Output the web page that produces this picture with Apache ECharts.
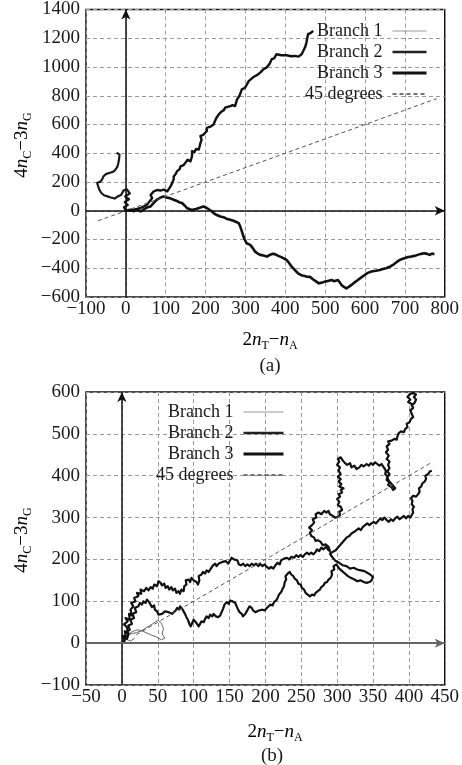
<!DOCTYPE html>
<html>
<head>
<meta charset="utf-8">
<script src="https://cdn.jsdelivr.net/npm/echarts@6/dist/echarts.min.js"></script>
<style>
html,body{margin:0;padding:0;background:#fff;}
#c{width:462px;height:765px;}
</style>
</head>
<body>
<div id="c"></div>
<script>
// ---------- DATA ----------
const seriesNames = ['Branch 1', 'Branch 2', 'Branch 3', '45 degrees'];

// Panel (a) axes
const aXTicks = [-100, 0, 100, 200, 300, 400, 500, 600, 700, 800];
const aYTicks = [-600, -400, -200, 0, 200, 400, 600, 800, 1000, 1200, 1400];
// Panel (b) axes
const bXTicks = [-50, 0, 50, 100, 150, 200, 250, 300, 350, 400, 450];
const bYTicks = [-100, 0, 100, 200, 300, 400, 500, 600];

// 45-degree reference lines: x extent (y = x)
const aDiagX = [-70, 780];
const bDiagX = [20, 432];

// Panel (a) walks
const aBranch1 = [[0,0],[-5,25],[5,40],[-3,60],[8,80],[-2,100],[10,120],[2,150],[-6,140],[-12,110],[-20,100],[-28,85],[-38,92],[-46,100],[-55,108],[-62,125],[-67,150],[-70,175],[-72,195],[-65,200],[-60,215],[-56,240],[-50,255],[-45,262],[-38,266],[-30,274],[-25,290],[-21,309],[-19,330],[-17,360],[-16,391],[-20,400],[-23,405]];
const aBranch2 = [[0,0],[8,6],[20,7],[28,12],[37,19],[45,30],[53,42],[58,60],[66,89],[62,110],[66,123],[70,135],[74,135],[80,145],[86,140],[91,147],[95,147],[100,140],[104,135],[108,147],[112,170],[116,190],[120,220],[120,239],[126,260],[128,274],[135,290],[137,309],[145,318],[149,333],[155,355],[162,344],[166,380],[166,414],[172,408],[176,430],[183,426],[187,470],[190,495],[187,519],[195,530],[203,555],[203,577],[212,585],[220,600],[220,612],[226,640],[233,670],[240,690],[246,700],[249,717],[262,728],[268,735],[274,728],[279,775],[285,800],[291,844],[299,856],[304,880],[308,902],[312,902],[320,930],[330,945],[337,961],[345,984],[353,996],[360,1020],[366,1054],[372,1060],[378,1089],[390,1082],[403,1082],[415,1075],[424,1077],[433,1072],[441,1089],[445,1112],[450,1140],[453,1170],[455,1200],[457,1228],[463,1235],[470,1251]];
const aBranch3 = [[0,0],[5,-5],[12,5],[20,-3],[28,8],[37,-5],[45,10],[55,25],[62,30],[70,55],[78,77],[86,90],[95,100],[102,92],[110,88],[115,80],[120,77],[128,68],[135,58],[141,54],[148,35],[153,19],[158,7],[165,5],[170,7],[176,12],[180,15],[187,22],[195,30],[199,28],[203,19],[208,12],[214,0],[220,-16],[228,-30],[237,-40],[245,-45],[252,-55],[262,-63],[270,-70],[277,-78],[283,-86],[287,-110],[291,-144],[294,-170],[298,-200],[303,-226],[308,-232],[312,-237],[318,-258],[324,-284],[330,-296],[337,-307],[345,-312],[354,-319],[362,-306],[368,-300],[374,-302],[381,-312],[387,-319],[395,-330],[403,-342],[410,-365],[416,-389],[424,-412],[432,-435],[440,-448],[446,-452],[453,-458],[462,-460],[470,-478],[478,-493],[484,-505],[492,-500],[499,-493],[507,-488],[516,-482],[522,-490],[532,-482],[537,-500],[541,-516],[547,-530],[553,-540],[560,-528],[566,-516],[574,-498],[582,-482],[590,-465],[599,-447],[607,-432],[616,-423],[627,-418],[637,-412],[645,-405],[653,-400],[662,-390],[670,-377],[678,-360],[687,-342],[693,-336],[699,-330],[708,-322],[716,-319],[724,-314],[732,-307],[740,-300],[749,-295],[756,-300],[762,-307],[768,-298],[774,-302]];

// Panel (b) walks
const bBranch1 = [[0,0],[5,15],[12,22],[20,25],[28,30],[35,38],[42,45],[50,55],[55,48],[58,35],[56,22],[60,12],[55,8],[48,15],[40,20],[30,28],[22,32],[15,28],[8,20],[5,10],[12,5],[18,12]];
const bBranch2 = [[0,0],[3,8],[1,18],[6,14],[4,28],[9,24],[7,38],[3,45],[8,52],[5,60],[11,56],[10,70],[14,66],[12,80],[16,88],[13,96],[19,100],[17,108],[23,112],[21,120],[27,118],[26,128],[31,124],[34,132],[37,126],[40,134],[43,130],[45,140],[49,136],[51,148],[54,144],[56,138],[59,142],[61,132],[64,136],[66,128],[69,134],[71,126],[74,130],[76,120],[79,124],[81,118],[83,128],[86,124],[87,136],[90,140],[89,150],[93,152],[95,146],[97,156],[100,150],[102,154],[104,146],[106,140],[108,150],[107,160],[111,164],[113,170],[116,166],[118,174],[121,170],[124,178],[126,174],[127,186],[130,190],[132,184],[135,190],[137,186],[140,194],[142,190],[145,196],[148,190],[151,198],[153,204],[156,200],[158,196],[161,198],[163,188],[166,186],[169,190],[172,184],[175,188],[178,184],[181,190],[184,186],[187,190],[190,184],[193,189],[196,184],[199,188],[202,182],[205,178],[208,182],[211,178],[214,186],[217,192],[220,188],[222,198],[226,202],[230,204],[233,200],[236,206],[240,204],[243,210],[246,206],[249,210],[252,206],[255,212],[258,216],[261,212],[264,216],[267,212],[270,218],[272,224],[275,220],[278,228],[281,224],[284,230],[287,224],[290,220],[288,230],[284,236],[280,234],[277,242],[273,246],[270,244],[268,252],[264,256],[262,264],[265,270],[261,276],[265,282],[268,288],[266,296],[271,300],[270,308],[274,312],[278,308],[282,316],[285,312],[288,316],[290,308],[294,304],[297,300],[299,296],[301,302],[304,306],[303,314],[307,318],[305,326],[301,330],[303,338],[300,344],[304,350],[302,356],[307,360],[305,366],[309,370],[303,374],[306,380],[302,386],[305,392],[301,398],[305,404],[302,412],[304,420],[300,426],[303,434],[301,440],[305,444],[308,436],[311,430],[314,426],[318,430],[320,420],[324,424],[327,416],[331,420],[334,426],[337,422],[341,428],[344,424],[347,430],[350,426],[353,432],[356,428],[359,424],[362,428],[365,420],[368,412],[367,404],[370,398],[369,390],[373,384],[371,378],[376,372],[378,366],[381,370],[378,376],[375,382],[372,388],[370,396],[373,404],[370,410],[373,418],[371,426],[373,434],[369,440],[372,448],[368,456],[371,462],[369,470],[373,476],[371,482],[376,484],[380,488],[383,486],[384,494],[386,502],[389,506],[393,504],[395,512],[398,516],[397,524],[401,528],[403,536],[406,540],[404,548],[402,556],[406,562],[404,568],[408,574],[410,582],[407,588],[410,594],[405,598],[401,594],[398,588],[402,582],[399,576],[405,570]];
const bBranch3 = [[0,0],[4,6],[2,14],[7,10],[9,20],[6,28],[11,32],[9,42],[14,46],[12,56],[17,60],[15,70],[20,74],[18,84],[23,88],[25,96],[28,92],[30,100],[33,96],[35,104],[38,98],[40,94],[42,86],[45,90],[46,80],[49,76],[51,68],[53,64],[56,70],[58,66],[60,76],[62,80],[65,74],[67,78],[70,70],[72,74],[75,78],[77,84],[80,80],[81,88],[84,82],[86,76],[88,70],[90,62],[92,56],[94,46],[96,40],[98,48],[100,56],[103,50],[105,46],[107,40],[109,44],[111,52],[114,50],[116,58],[118,64],[121,60],[123,68],[126,64],[128,70],[131,64],[134,62],[137,66],[139,74],[141,82],[143,92],[146,98],[149,94],[151,102],[154,100],[156,104],[158,96],[160,88],[162,80],[164,74],[167,70],[169,64],[172,70],[174,76],[176,82],[178,88],[181,84],[183,78],[186,74],[188,72],[191,78],[193,74],[196,80],[199,78],[202,84],[204,88],[207,92],[210,90],[212,98],[215,102],[217,108],[219,116],[222,122],[224,130],[226,136],[227,146],[229,152],[228,160],[231,166],[234,170],[236,164],[239,160],[241,154],[244,150],[246,142],[249,140],[251,132],[254,128],[256,120],[259,116],[262,112],[265,116],[268,114],[270,120],[273,124],[276,128],[278,134],[281,138],[283,144],[286,146],[288,152],[291,156],[293,164],[292,172],[296,176],[295,184],[299,188],[303,178],[307,172],[311,166],[315,160],[319,156],[324,152],[328,148],[333,150],[337,146],[341,144],[345,146],[348,150],[350,158],[346,164],[342,168],[338,172],[333,174],[328,176],[323,180],[318,178],[313,184],[308,186],[303,192],[298,196],[295,202],[292,208],[290,214],[294,218],[298,222],[301,228],[304,234],[307,240],[310,246],[313,252],[317,256],[320,262],[324,266],[327,270],[330,274],[333,270],[336,278],[339,282],[342,286],[345,282],[348,286],[351,290],[354,286],[357,292],[360,298],[363,294],[366,300],[369,294],[372,290],[375,296],[378,292],[381,298],[384,302],[387,296],[390,300],[393,304],[396,298],[399,304],[402,300],[404,306],[406,312],[405,320],[407,326],[404,332],[405,340],[403,346],[406,352],[410,350],[413,356],[415,362],[414,370],[417,374],[419,382],[422,386],[424,392],[423,400],[427,404],[429,410],[432,412]];

// ---------- CHART ----------
const SERIF = '"Liberation Serif","DejaVu Serif",serif';
const TXT = '#1a1a1a';
const fmtMinus = v => String(v).replace('-', '\u2212');

function xAxisCfg(gi, ticks) {
  return {
    type: 'value', gridIndex: gi,
    min: ticks[0], max: ticks[ticks.length - 1], interval: ticks[1] - ticks[0],
    axisLine: { show: false }, axisTick: { show: false },
    axisLabel: { fontFamily: SERIF, fontSize: 19, color: TXT, margin: 3, formatter: fmtMinus },
    splitLine: { show: true, lineStyle: { color: '#9a9a9a', type: [4, 3], width: 1 } }
  };
}
function yAxisCfg(gi, ticks) {
  return {
    type: 'value', gridIndex: gi,
    min: ticks[0], max: ticks[ticks.length - 1], interval: ticks[1] - ticks[0],
    axisLine: { show: false }, axisTick: { show: false },
    axisLabel: { fontFamily: SERIF, fontSize: 19, color: TXT, margin: 6, formatter: fmtMinus },
    splitLine: { show: true, lineStyle: { color: '#9a9a9a', type: [4, 3], width: 1 } }
  };
}
function walk(name, gi, data, color, width) {
  return {
    name, type: 'line', xAxisIndex: gi, yAxisIndex: gi, data,
    showSymbol: false, symbol: 'none', animation: false,
    lineStyle: { color, width, join: 'round' }, itemStyle: { color }, z: 3
  };
}
function diag(gi, xs, xT, yT, hColor, hWidth) {
  return {
    name: '45 degrees', type: 'line', xAxisIndex: gi, yAxisIndex: gi,
    data: xs.map(x => [x, x]), showSymbol: false, symbol: 'none', animation: false,
    lineStyle: { color: '#555', width: 1, type: [4, 3] }, itemStyle: { color: '#555' }, z: 4,
    markLine: {
      silent: true, animation: false, symbol: ['none', 'arrow'], symbolSize: [7, 10],
      label: { show: false },
      data: [
        [{ coord: [0, yT[0]], lineStyle: { color: '#111', width: 1.5, type: 'solid' } }, { coord: [0, yT[yT.length - 1]] }],
        [{ coord: [xT[0], 0], lineStyle: { color: hColor, width: hWidth, type: 'solid' } }, { coord: [xT[xT.length - 1], 0] }]
      ]
    }
  };
}
function legendCfg(top, right, w) {
  const hide = { opacity: 0, borderWidth: 0 };
  return {
    orient: 'vertical', top, right, align: 'right', itemGap: 1,
    itemWidth: w, itemHeight: 14,
    textStyle: { fontFamily: SERIF, fontSize: 18, color: TXT, lineHeight: 20, padding: [0, 5, 0, 0] },
    data: [
      { name: 'Branch 1', itemStyle: hide, lineStyle: { color: '#999', width: 1 } },
      { name: 'Branch 2', itemStyle: hide, lineStyle: { color: '#222', width: 2.5 } },
      { name: 'Branch 3', itemStyle: hide, lineStyle: { color: '#111', width: 3 } },
      { name: '45 degrees', itemStyle: hide, lineStyle: { color: '#444', width: 1.5, type: [4, 3] } }
    ]
  };
}
const richName = {
  d: { fontFamily: SERIF, fontSize: 19, color: TXT, lineHeight: 24, verticalAlign: 'middle' },
  i: { fontFamily: SERIF, fontSize: 19, fontStyle: 'italic', color: TXT, lineHeight: 24, verticalAlign: 'middle' },
  s: { fontFamily: SERIF, fontSize: 12, color: TXT, lineHeight: 24, verticalAlign: 'bottom' }
};
function nameText(x, y, str, rot) {
  return {
    type: 'text', x, y, rotation: rot || 0,
    style: { text: str, rich: richName, align: 'center', verticalAlign: 'middle' }
  };
}
const xName = '{d|2}{i|n}{s|T}{d|\u2212}{i|n}{s|A}';
const yName = '{d|4}{i|n}{s|C}{d|\u22123}{i|n}{s|G}';

const chart = echarts.init(document.getElementById('c'), null, { renderer: 'canvas' });
chart.setOption({
  animation: false,
  backgroundColor: '#fff',
  grid: [
    { left: 86, right: 16, top: 8, height: 289, show: true, borderColor: '#111', borderWidth: 1.5, backgroundColor: 'transparent' },
    { left: 86, right: 17, top: 392, height: 293, show: true, borderColor: '#111', borderWidth: 1.5, backgroundColor: 'transparent' }
  ],
  xAxis: [xAxisCfg(0, aXTicks), xAxisCfg(1, bXTicks)],
  yAxis: [yAxisCfg(0, aYTicks), yAxisCfg(1, bYTicks)],
  legend: [legendCfg(16, 29, 34), legendCfg(397, 172, 40)],
  series: [
    walk('Branch 1', 0, aBranch1, '#1a1a1a', 2.2),
    walk('Branch 2', 0, aBranch2, '#111', 2.4),
    walk('Branch 3', 0, aBranch3, '#111', 2.6),
    diag(0, aDiagX, aXTicks, aYTicks, '#111', 1.5),
    walk('Branch 1', 1, bBranch1, '#666', 1),
    walk('Branch 2', 1, bBranch2, '#111', 2.2),
    walk('Branch 3', 1, bBranch3, '#111', 2.2),
    diag(1, bDiagX, bXTicks, bYTicks, '#666', 2)
  ],
  graphic: [
    nameText(270, 340, xName),
    { type: 'text', x: 270, y: 366, style: { text: '(a)', fontFamily: SERIF, fontSize: 19, fill: TXT, align: 'center', verticalAlign: 'middle' } },
    nameText(22, 145, yName, Math.PI / 2),
    nameText(275, 732, xName),
    { type: 'text', x: 272, y: 756, style: { text: '(b)', fontFamily: SERIF, fontSize: 19, fill: TXT, align: 'center', verticalAlign: 'middle' } },
    nameText(22, 540, yName, Math.PI / 2)
  ]
});
</script>
</body>
</html>
